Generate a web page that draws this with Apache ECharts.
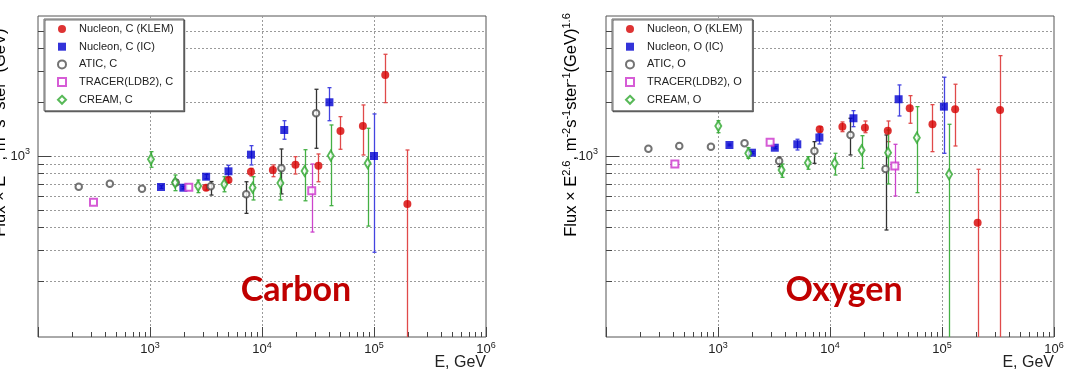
<!DOCTYPE html>
<html><head><meta charset="utf-8">
<script src="https://cdn.jsdelivr.net/npm/echarts@6/dist/echarts.min.js"></script>
<style>html,body{margin:0;padding:0;background:#fff}#c{width:1086px;height:376px}</style>
</head><body><div id="c"></div>
<script>
// Each row: [E (GeV), Flux x E^2.6, lower error end, upper error end]
const carbonKLEM = [
  [3170, 665, 645, 688], [5020, 734, 712, 758], [7970, 817, 773, 853], [12500, 835, 766, 891],
  [19900, 894, 793, 991], [31900, 883, 718, 1026], [50200, 1379, 1090, 1658], [79600, 1471, 1013, 1927],
  [126000, 2835, 1986, 3698], [198600, 540, 10, 1080]
];
const carbonIC = [
  [1254, 671, 660, 682], [1986, 665, 655, 676], [3170, 766, 745, 788], [5020, 821, 766, 887],
  [7970, 1017, 891, 1142], [15800, 1397, 1240, 1574], [40000, 1995, 1574, 2407], [100000, 1000, 290, 1717]
];
const carbonATIC = [
  [231, 674, 674, 674], [438, 700, 700, 700], [848, 656, 656, 656], [1700, 710, 690, 735],
  [3490, 678, 605, 720], [7230, 611, 478, 718], [14900, 853, 614, 1094], [30400, 1732, 1104, 2358]
];
const carbonTRACER = [
  [313, 551, 551, 551], [2220, 668, 668, 668], [27800, 640, 376, 902]
];
const carbonCREAM = [
  [1020, 959, 865, 1057], [1675, 710, 640, 783], [2690, 680, 624, 734], [4600, 695, 631, 766],
  [8240, 665, 568, 766], [14600, 706, 568, 835], [24000, 824, 562, 1084], [41100, 1004, 528, 1490],
  [87700, 911, 406, 1428]
];
const oxygenKLEM = [
  [8090, 1409, 1362, 1456], [12900, 1458, 1367, 1549], [20500, 1439, 1349, 1568], [32800, 1384, 1202, 1568],
  [51500, 1847, 1523, 2173], [82200, 1503, 1057, 1935], [131000, 1823, 1137, 2516], [208000, 424, 10, 843],
  [330000, 1807, 10, 3634]
];
const oxygenIC = [
  [1265, 1152, 1140, 1165], [2010, 1043, 1030, 1056], [3215, 1112, 1098, 1126], [5105, 1162, 1080, 1240],
  [8040, 1268, 1167, 1339], [16200, 1624, 1458, 1791], [41000, 2074, 1673, 2493], [104000, 1886, 1035, 2753]
];
const oxygenATIC = [
  [239, 1098, 1098, 1098], [451, 1137, 1137, 1137], [865, 1127, 1127, 1127], [1726, 1177, 1177, 1177],
  [3515, 938, 872, 987], [7260, 1066, 910, 1202], [15240, 1310, 1013, 1624], [31300, 846, 386, 1310]
];
const oxygenTRACER = [
  [412, 902, 902, 902], [2920, 1193, 1193, 1193], [37900, 879, 598, 1162]
];
const oxygenCREAM = [
  [1006, 1471, 1349, 1574], [1864, 1035, 971, 1112], [3695, 835, 760, 902], [6340, 917, 843, 991],
  [11000, 910, 783, 1035], [19140, 1076, 853, 1298], [33000, 1043, 698, 1397], [59600, 1265, 624, 1886],
  [115700, 790, 10, 1503]
];
const carbonNames = ['Nucleon, C (KLEM)', 'Nucleon, C (IC)', 'ATIC, C', 'TRACER(LDB2), C', 'CREAM, C'];
const oxygenNames = ['Nucleon, O (KLEM)', 'Nucleon, O (IC)', 'ATIC, O', 'TRACER(LDB2), O', 'CREAM, O'];
const xTickValues = [];
for (let d = 2; d <= 5; d++) for (let k = 1; k <= 9; k++) xTickValues.push(k * Math.pow(10, d));
xTickValues.push(1e6);
const xGridValues = [1e3, 1e4, 1e5];
const yTickValues = [200, 300, 400, 500, 600, 700, 800, 900, 1000, 2000, 3000, 4000, 5000];
const X_MIN = 100, X_MAX = 1e6, Y_MIN = 97.5, Y_MAX = 6050;

const styles = [
  {symbol: 'circle', size: 8, color: '#d60000', err: '#e04a4a', empty: false},
  {symbol: 'rect', size: 8, color: '#0000d0', err: '#4444e0', empty: false},
  {symbol: 'emptyCircle', size: 6.5, color: '#505050', err: '#333333', empty: true, bw: 0.9},
  {symbol: 'emptyRect', size: 7, color: '#cc33cc', err: '#cc44cc', empty: true, bw: 1.1},
  {symbol: 'emptyDiamond', size: [6, 10], color: '#2ea82e', err: '#44b044', empty: true, bw: 1.1}
];

function isMajor(v) { const l = Math.log10(v); return Math.abs(l - Math.round(l)) < 1e-6; }

function tickSeries(gi, axis) {
  const vals = axis === 'x' ? xTickValues : yTickValues;
  return {
    type: 'custom', xAxisIndex: gi, yAxisIndex: gi, silent: true, z: 1, clip: false,
    data: vals.map(v => axis === 'x' ? [v, Y_MIN] : [X_MIN, v]),
    renderItem(params, api) {
      const cs = params.coordSys;
      const p = api.coord([api.value(0), api.value(1)]);
      const children = [];
      const dotted = {stroke: '#9a9a9a', lineWidth: 1, lineDash: [2, 2]};
      const solid = {stroke: '#444', lineWidth: 1};
      if (axis === 'y') {
        const v = api.value(1);
        const y = Math.round(p[1]) + 0.5;
        children.push({type: 'line', shape: {x1: cs.x, y1: y, x2: cs.x + cs.width, y2: y}, style: dotted});
        children.push({type: 'line', shape: {x1: cs.x, y1: y, x2: cs.x + (isMajor(v) ? 13 : 6), y2: y}, style: solid});
      } else {
        const v = api.value(0);
        const x = Math.round(p[0]) + 0.5;
        if (xGridValues.some(g => Math.abs(g - v) < 1e-6 * g)) {
          children.push({type: 'line', shape: {x1: x, y1: cs.y, x2: x, y2: cs.y + cs.height}, style: dotted});
        }
        const b = cs.y + cs.height;
        children.push({type: 'line', shape: {x1: x, y1: b, x2: x, y2: b - (isMajor(v) ? 10 : 5)}, style: solid});
      }
      return {type: 'group', children};
    }
  };
}

function errSeries(gi, name, data, color) {
  return {
    type: 'custom', name: name + ' err', xAxisIndex: gi, yAxisIndex: gi, silent: true, z: 2, clip: false,
    data: data,
    renderItem(params, api) {
      const cs = params.coordSys;
      const e = api.value(0), lo = api.value(2), hi = api.value(3);
      if (!(hi > lo)) return null;
      const t = api.coord([e, hi]), bt = api.coord([e, lo]);
      const x = Math.round(t[0]) + 0.5;
      const yTop = cs.y, yBot = cs.y + cs.height;
      const y1 = Math.max(t[1], yTop), y2 = Math.min(bt[1], yBot);
      const st = {stroke: color, lineWidth: 1.3};
      const ch = [{type: 'line', shape: {x1: x, y1: y1, x2: x, y2: y2}, style: st}];
      if (t[1] >= yTop) ch.push({type: 'line', shape: {x1: x - 2, y1: y1, x2: x + 2, y2: y1}, style: st});
      if (bt[1] <= yBot) ch.push({type: 'line', shape: {x1: x - 2, y1: y2, x2: x + 2, y2: y2}, style: st});
      return {type: 'group', children: ch};
    }
  };
}

function markerSeries(gi, name, data, s) {
  return {
    type: 'scatter', name: name, xAxisIndex: gi, yAxisIndex: gi, z: 3,
    symbol: s.symbol, symbolSize: s.size,
    itemStyle: s.empty ? {color: s.color, borderColor: s.color, borderWidth: s.bw} : {color: s.color},
    data: data.map(r => [r[0], r[1]])
  };
}

const supRich = {
  b: {fontSize: 13, color: '#222', fontFamily: 'Liberation Sans'},
  s: {fontSize: 9, color: '#222', fontFamily: 'Liberation Sans', padding: [0, 0, 8, 0]}
};
function xLabel(v) { const l = Math.log10(v), r = Math.round(l); return (Math.abs(l - r) < 1e-6 && r >= 3) ? '{b|10}{s|' + r + '}' : ''; }
function yLabel(v) { const l = Math.log10(v), r = Math.round(l); return (Math.abs(l - r) < 1e-6 && r === 3) ? '{b|10}{s|3}' : ''; }

const grids = [
  {left: 38, top: 16, width: 448, height: 321, show: true, borderColor: '#555', borderWidth: 1, backgroundColor: '#fff'},
  {left: 606, top: 16, width: 448, height: 321, show: true, borderColor: '#555', borderWidth: 1, backgroundColor: '#fff'}
];
const xAxes = [0, 1].map(i => ({
  type: 'log', logBase: 10, gridIndex: i, min: X_MIN, max: X_MAX,
  axisLine: {show: false}, axisTick: {show: false}, splitLine: {show: false}, minorTick: {show: false},
  axisLabel: {formatter: xLabel, rich: supRich, margin: 4, showMinLabel: true, showMaxLabel: true}
}));
const yAxes = [0, 1].map(i => ({
  type: 'log', logBase: 10, gridIndex: i, min: Y_MIN, max: Y_MAX,
  axisLine: {show: false}, axisTick: {show: false}, splitLine: {show: false},
  axisLabel: {formatter: yLabel, rich: supRich, margin: 8}
}));

const panels = [
  {data: [carbonKLEM, carbonIC, carbonATIC, carbonTRACER, carbonCREAM], names: carbonNames},
  {data: [oxygenKLEM, oxygenIC, oxygenATIC, oxygenTRACER, oxygenCREAM], names: oxygenNames}
];
const series = [];
panels.forEach((p, gi) => {
  series.push(tickSeries(gi, 'x'), tickSeries(gi, 'y'));
  p.data.forEach((d, k) => series.push(errSeries(gi, p.names[k], d, styles[k].err)));
  p.data.forEach((d, k) => series.push(markerSeries(gi, p.names[k], d, styles[k])));
});

const legendBase = {
  orient: 'vertical', itemWidth: 8, itemHeight: 8, itemGap: 5.7,
  padding: [4, 10, 5, 13], backgroundColor: '#fff', borderColor: '#666', borderWidth: 1,
  shadowColor: 'rgba(0,0,0,0.55)', shadowOffsetX: 1, shadowOffsetY: 1, shadowBlur: 0,
  textStyle: {fontSize: 11, color: '#222', fontFamily: 'Liberation Sans', lineHeight: 12, padding: [0, 0, 0, 8]},
  selectedMode: false, z: 10
};
const legends = [
  Object.assign({}, legendBase, {left: 44, top: 19, data: carbonNames}),
  Object.assign({}, legendBase, {left: 612, top: 19, data: oxygenNames})
];

const yTitle = '{m|Flux × E}{s|2.6}{m|, m}{s|-2}{m|s}{s|-1}{m|ster}{s|-1}{m|(GeV)}{s|1.6}';
const titleRich = {
  m: {fontSize: 16.5, color: '#222', fontFamily: 'Liberation Sans'},
  s: {fontSize: 11, color: '#222', fontFamily: 'Liberation Sans', padding: [0, 0, 9, 0]}
};
const graphics = [
  {type: 'text', x: 0, y: 125, rotation: Math.PI / 2, style: {text: yTitle, rich: titleRich, align: 'center', verticalAlign: 'middle'}},
  {type: 'text', x: 571, y: 125, rotation: Math.PI / 2, style: {text: yTitle, rich: titleRich, align: 'center', verticalAlign: 'middle'}},
  {type: 'text', x: 486, y: 363, style: {text: 'E, GeV', fontSize: 16, fill: '#222', fontFamily: 'Liberation Sans', align: 'right', verticalAlign: 'middle'}},
  {type: 'text', x: 1054, y: 363, style: {text: 'E, GeV', fontSize: 16, fill: '#222', fontFamily: 'Liberation Sans', align: 'right', verticalAlign: 'middle'}},
  {type: 'text', x: 296, y: 290, z: 20, style: {text: 'Carbon', fontSize: 34, fontWeight: 'bold', fill: '#c00000', fontFamily: 'Lato', align: 'center', verticalAlign: 'middle'}},
  {type: 'text', x: 844, y: 290, z: 20, style: {text: 'Oxygen', fontSize: 34, fontWeight: 'bold', fill: '#c00000', fontFamily: 'Lato', align: 'center', verticalAlign: 'middle'}}
];

const chart = echarts.init(document.getElementById('c'), null, {renderer: 'canvas'});
chart.setOption({
  animation: false, backgroundColor: '#fff',
  grid: grids, xAxis: xAxes, yAxis: yAxes, legend: legends, series: series, graphic: graphics
});
</script></body></html>
